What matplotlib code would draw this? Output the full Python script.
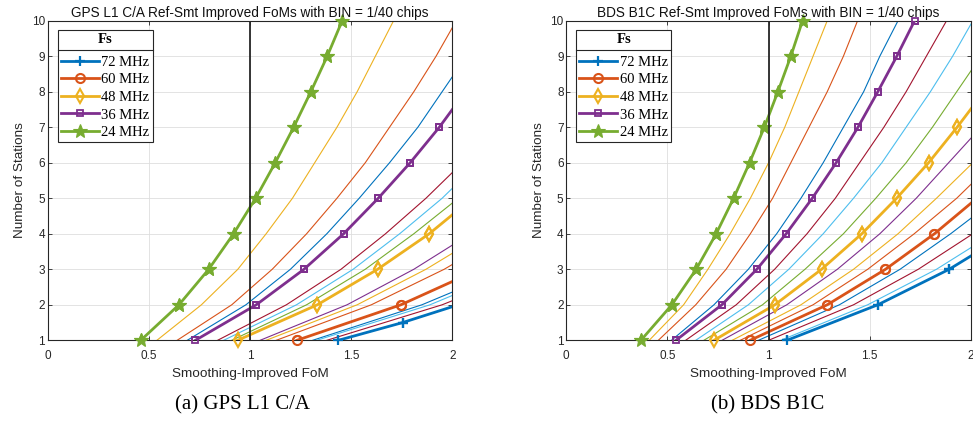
import matplotlib
matplotlib.use('Agg')
import matplotlib.pyplot as plt
from matplotlib.lines import Line2D

plt.rcParams['font.family'] = ['Liberation Sans', 'DejaVu Sans']

# MATLAB default line colours
BLUE = '#0072BD'
ORANGE = '#D95319'
YELLOW = '#EDB120'
PURPLE = '#7E2F8E'
GREEN = '#77AC30'
LBLUE = '#4DBEEE'
DRED = '#A2142F'

stations = [1, 2, 3, 4, 5, 6, 7, 8, 9, 10]
fs_labels = ['72 MHz', '60 MHz', '48 MHz', '36 MHz', '24 MHz']

# GPS L1 C/A: smoothing-improved FoM at each station count
gps_72_y = [1, 1.5, 2]
gps_72 = [1.437, 1.755, 2.03]
gps_60 = [1.232, 1.746, 2.134]
gps_48 = [0.939, 1.333, 1.631, 1.886, 2.10]
gps_36 = [0.730, 1.031, 1.267, 1.463, 1.634, 1.792, 1.936, 2.065]
gps_24 = [0.460, 0.649, 0.796, 0.919, 1.028, 1.125, 1.216, 1.301, 1.382, 1.456]
gps_thin = [
    [0.54, 0.76, 0.94, 1.08, 1.21, 1.32, 1.43, 1.53, 1.62, 1.71],
    [0.64, 0.91, 1.11, 1.28, 1.43, 1.57, 1.69, 1.81, 1.92, 2.02],
    [0.69, 0.98, 1.20, 1.38, 1.54, 1.69, 1.83, 1.95, 2.07],
    [0.84, 1.18, 1.45, 1.67, 1.87, 2.05],
    [0.87, 1.23, 1.51, 1.74, 1.95, 2.13],
    [0.91, 1.28, 1.57, 1.81, 2.03],
    [1.05, 1.48, 1.81, 2.09],
    [1.08, 1.53, 1.87, 2.16],
    [1.13, 1.60, 1.96, 2.26],
    [1.31, 1.85, 2.27],
    [1.33, 1.89, 2.31],
    [1.38, 1.95, 2.39],
]

# BDS B1C
bds_72 = [1.091, 1.540, 1.893, 2.18]
bds_60 = [0.909, 1.290, 1.578, 1.820, 2.03]
bds_48 = [0.730, 1.031, 1.262, 1.461, 1.633, 1.791, 1.932, 2.065]
bds_36 = [0.542, 0.769, 0.942, 1.087, 1.216, 1.334, 1.442, 1.540, 1.634, 1.722]
bds_24 = [0.369, 0.522, 0.642, 0.741, 0.827, 0.906, 0.979, 1.046, 1.110, 1.168]
bds_thin = [
    [0.41, 0.58, 0.70, 0.81, 0.91, 1.00, 1.08, 1.15, 1.22, 1.29],
    [0.455, 0.64, 0.79, 0.91, 1.02, 1.11, 1.20, 1.29, 1.37, 1.44],
    [0.52, 0.73, 0.90, 1.04, 1.16, 1.27, 1.37, 1.47, 1.55, 1.64],
    [0.59, 0.84, 1.03, 1.19, 1.33, 1.45, 1.57, 1.68, 1.78, 1.88],
    [0.64, 0.90, 1.10, 1.27, 1.42, 1.56, 1.68, 1.80, 1.91, 2.01],
    [0.68, 0.97, 1.18, 1.37, 1.53, 1.68, 1.81, 1.93, 2.05],
    [0.77, 1.09, 1.34, 1.55, 1.73, 1.89, 2.05],
    [0.82, 1.16, 1.42, 1.64, 1.83, 2.01],
    [0.86, 1.22, 1.49, 1.72, 1.93, 2.11],
    [0.95, 1.35, 1.65, 1.90, 2.13],
    [1.00, 1.42, 1.74, 2.01],
    [1.06, 1.49, 1.83, 2.11],
]

gps_thin_colors = [YELLOW, ORANGE, BLUE, DRED, LBLUE, GREEN,
                   PURPLE, YELLOW, ORANGE, BLUE, LBLUE, DRED]
bds_thin_colors = [YELLOW, ORANGE, BLUE, DRED, LBLUE, GREEN,
                   PURPLE, YELLOW, ORANGE, BLUE, DRED, LBLUE]

bold_colors = [BLUE, ORANGE, YELLOW, PURPLE, GREEN]
bold_markers = [
    dict(marker='+', markersize=7, markeredgewidth=1.6),
    dict(marker='o', markersize=6.5, markerfacecolor='none', markeredgewidth=1.5),
    dict(marker='d', markersize=7.5, markerfacecolor='none', markeredgewidth=1.5),
    dict(marker='s', markersize=4.5, markerfacecolor='none', markeredgewidth=1.3),
    dict(marker='*', markersize=10, markeredgewidth=0.8),
]


def panel(ax, bold_x, bold_y, thin_x, thin_colors, title):
    """
    Draw one panel of FoM curves.

    Parameters
    ----------
    ax : Axes
    bold_x : list of lists
        FoM of the five highlighted sampling rates.
    bold_y : list of lists
        Station counts belonging to bold_x.
    thin_x : list of lists
        FoM of the intermediate sampling rates.
    """
    for xs, c in zip(thin_x, thin_colors):
        ax.plot(xs, stations[:len(xs)], color=c, lw=0.8, zorder=2)

    for xs, ys, c, mk, lab in zip(bold_x, bold_y, bold_colors, bold_markers, fs_labels):
        inside = [i for i, v in enumerate(xs) if v <= 2.0]
        ax.plot(xs, ys, color=c, lw=2.0, markevery=inside, label=lab, zorder=3, **mk)
        # markers sitting on the axes edge should not be cut in half
        ax.plot([xs[i] for i in inside], [ys[i] for i in inside], ls='none',
                color=c, clip_on=False, zorder=3, **mk)

    ax.axvline(1, color='#262626', lw=1.3, zorder=4)

    ax.set_xlim(0, 2)
    ax.set_ylim(1, 10)
    ax.set_xticks([0, 0.5, 1, 1.5, 2])
    ax.set_xticklabels(['0', '0.5', '1', '1.5', '2'])
    ax.set_yticks(stations)
    ax.grid(True, color='#dedede', lw=0.6, zorder=0)
    ax.set_axisbelow(True)
    ax.tick_params(direction='in', length=3, width=0.6, top=True, right=True,
                   labelsize=8.5, colors='#262626')
    ax.tick_params(axis='x', pad=7)
    ax.tick_params(axis='y', pad=2)
    for s in ax.spines.values():
        s.set_color('#262626')
        s.set_linewidth(0.8)

    ax.set_title(title, fontsize=9.8, color='#111111', pad=3)
    ax.set_xlabel('Smoothing-Improved FoM', fontsize=9.7, color='#262626', labelpad=4)
    ax.set_ylabel('Number of Stations', fontsize=9.7, color='#262626', labelpad=4)

    leg = ax.legend(loc='upper left', bbox_to_anchor=(0.0247, 0.970), borderaxespad=0,
                    title='Fs', fancybox=False, framealpha=1, edgecolor='#262626',
                    handlelength=2.6, handletextpad=0.2, labelspacing=0.3,
                    borderpad=0.2, prop={'family': 'Liberation Serif', 'size': 10.5})
    leg.get_frame().set_linewidth(0.8)
    leg.get_title().set_fontproperties({'family': 'Liberation Serif', 'size': 10.5,
                                        'weight': 'bold'})
    # more room between the title and the entries
    leg._legend_box.sep += 3.6
    return leg


fig = plt.figure(figsize=(9.73, 4.24), dpi=100)
ax1 = fig.add_axes([0.049, 0.1974, 0.4158, 0.7538])
ax2 = fig.add_axes([0.582, 0.1974, 0.4158, 0.7538])

leg1 = panel(ax1, [gps_72, gps_60, gps_48, gps_36, gps_24],
             [gps_72_y, stations[:3], stations[:5], stations[:8], stations],
             gps_thin, gps_thin_colors,
             'GPS L1 C/A Ref-Smt Improved FoMs with BIN = 1/40 chips')
leg2 = panel(ax2, [bds_72, bds_60, bds_48, bds_36, bds_24],
             [stations[:4], stations[:5], stations[:8], stations, stations],
             bds_thin, bds_thin_colors,
             'BDS B1C Ref-Smt Improved FoMs with BIN = 1/40 chips')

fig.text(0.249, 0.045, '(a) GPS L1 C/A', ha='center', va='center',
         family='Liberation Serif', fontsize=15)
fig.text(0.789, 0.045, '(b) BDS B1C', ha='center', va='center',
         family='Liberation Serif', fontsize=15)

# rule under the legend title
fig.canvas.draw()
for leg in (leg1, leg2):
    bb = leg.get_frame().get_window_extent()
    tb = leg.get_title().get_window_extent()
    y = (tb.y0 - 4) / fig.bbox.height
    fig.add_artist(Line2D([bb.x0 / fig.bbox.width, bb.x1 / fig.bbox.width], [y, y],
                          transform=fig.transFigure, color='#262626', lw=0.8))

fig.savefig('out.png', dpi=100)
